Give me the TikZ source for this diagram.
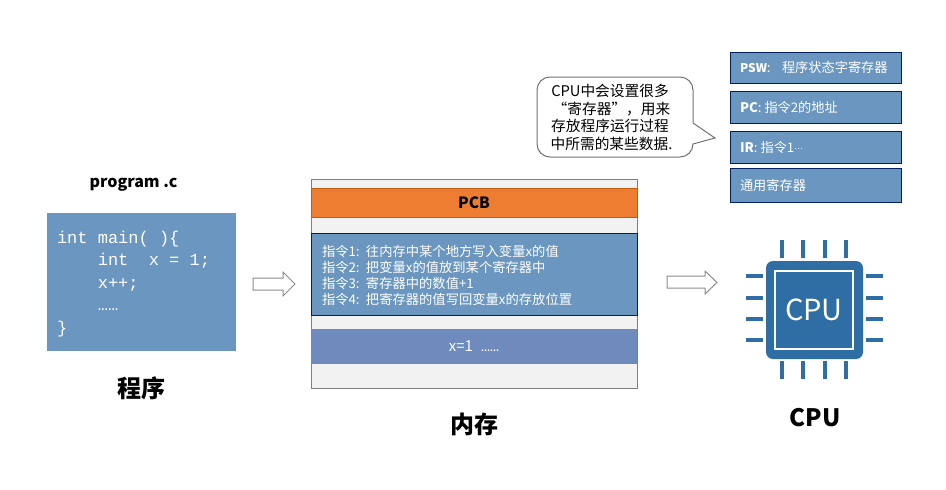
\documentclass[tikz,border=0pt]{standalone}
\usepackage{fontspec}
\setmainfont{Noto Sans CJK SC}
\newfontfamily\codefont{Liberation Mono}
\definecolor{boxblue}{HTML}{6A96BF}
\definecolor{navyline}{HTML}{002060}
\definecolor{orangebox}{HTML}{ED7D31}
\definecolor{orangeline}{HTML}{C55A11}
\definecolor{dblue}{HTML}{6F8ABD}
\definecolor{cpublue}{HTML}{2F6EA5}
\definecolor{memgray}{HTML}{F2F2F2}
\newcommand\fsz[1]{\fontsize{#1}{#1}\selectfont}
\newcommand\instrlabel[1]{\makebox[44pt][l]{#1}}
\tikzset{
  x=1pt,y=-1pt,
  every node/.style={inner sep=0pt,outer sep=0pt},
  rect/.style={anchor=north west,minimum width=#1},
  regbox/.style={rect=171pt,draw=navyline,line width=1pt,fill=boxblue},
  regtext/.style={anchor=west,text=white,font=\fsz{13.2}},
  title/.style={font=\bfseries\fsz{24},text=black},
  blockarrow/.style={draw=black!45,line width=1pt,fill=white},
  pin/.style={draw=cpublue,line width=3.6pt},
}
\begin{document}
\begin{tikzpicture}
\useasboundingbox (0,0) rectangle (946,490);
% program
\node[font=\bfseries\fsz{16}] (progname) at (133.5,185) {program .c};
\node[rect=189pt,minimum height=138pt,fill=boxblue] (prog) at (47,213) {};
\node[anchor=north west,align=left,text=white,font=\codefont\fontsize{17}{22.5}\selectfont] (code) at (57,231)
 {int main( )\{\\~~~~int~~x = 1;\\~~~~x++;\\~~~~……\\\}};
\node[title] (progtitle) at (141,388) {程序};
% arrow 1
\draw[blockarrow] (253,278) -- (283,278) -- (283,272) -- (295,284) -- (283,296) -- (283,290) -- (253,290) -- cycle;
% memory
\node[rect=326pt,minimum height=209pt,draw=black!50,line width=1pt,fill=memgray] (mem) at (311,179) {};
\node[rect=326pt,minimum height=29pt,draw=orangeline,line width=1pt,fill=orangebox,font=\bfseries\fsz{15.5},text=black] (pcb) at (311,188) {PCB};
\node[rect=326pt,minimum height=82pt,draw=navyline,line width=1pt,fill=boxblue] (instr) at (311,233) {};
\node[anchor=west,align=left,text=white,font=\fontsize{13.3}{16}\selectfont] (instrtext) at (322,275)
 {\instrlabel{指令1:}往内存中某个地方写入变量x的值\\
  \instrlabel{指令2:}把变量x的值放到某个寄存器中\\
  \instrlabel{指令3:}寄存器中的数值+1\\
  \instrlabel{指令4:}把寄存器的值写回变量x的存放位置};
\node[rect=326pt,minimum height=35pt,fill=dblue,text=white,font=\fsz{15}] (data) at (311,329) {x=1\hspace{8pt}{\bfseries\fsz{8}……}};
\node[title] (memtitle) at (474,424) {内存};
% arrow 2
\draw[blockarrow] (667,276) -- (705,276) -- (705,271) -- (717,282.5) -- (705,294) -- (705,288) -- (667,288) -- cycle;
% bubble
\draw[draw=black!55,line width=1pt,fill=white,rounded corners=13pt]
  (537,77) -- (693,77) [sharp corners] -- (693,123) -- (715,138) -- (693,144) [rounded corners=13pt] -- (693,157) -- (537,157) -- cycle;
\node[anchor=center,align=center,font=\fontsize{14.7}{17.8}\selectfont,text=black] (bubble) at (610,117.5)
 {CPU中会设置很多\\\hspace{3pt}“寄存器”，用来\\存放程序运行过程\\\hspace{3pt}中所需的某些数据.};
% registers
\node[regbox,minimum height=31pt] (psw) at (730,52) {};
\node[regtext] (pswt) at (740,67.5) {\makebox[42pt][l]{{\bfseries\fsz{12}PSW}:}程序状态字寄存器};
\node[regbox,minimum height=32pt] (pc) at (730,91) {};
\node[regtext] (pct) at (740,107) {\textbf{PC}: 指令2的地址};
\node[regbox,minimum height=32pt] (ir) at (730,131) {};
\node[regtext] (irt) at (740,147) {\textbf{IR}: 指令1\raisebox{3pt}{\fsz{8}…}};
\node[regbox,minimum height=34pt] (gen) at (730,168) {};
\node[regtext] (gent) at (740,185) {通用寄存器};
% cpu
\foreach \p in {782,803,825,846}{
  \draw[pin] (\p,240) -- (\p,258);
  \draw[pin] (\p,361) -- (\p,379);
}
\foreach \p in {276,298,319,340}{
  \draw[pin] (746,\p) -- (763,\p);
  \draw[pin] (866,\p) -- (883,\p);
}
\fill[cpublue,rounded corners=7pt] (766,261) rectangle (863,359);
\node[rect=78pt,minimum height=78pt,draw=white,line width=1.6pt,fill=cpublue,text=white,font=\fsz{29}] (chip) at (775,271) {CPU};
\node[title] (cputitle) at (815,418) {CPU};
\end{tikzpicture}
\end{document}
